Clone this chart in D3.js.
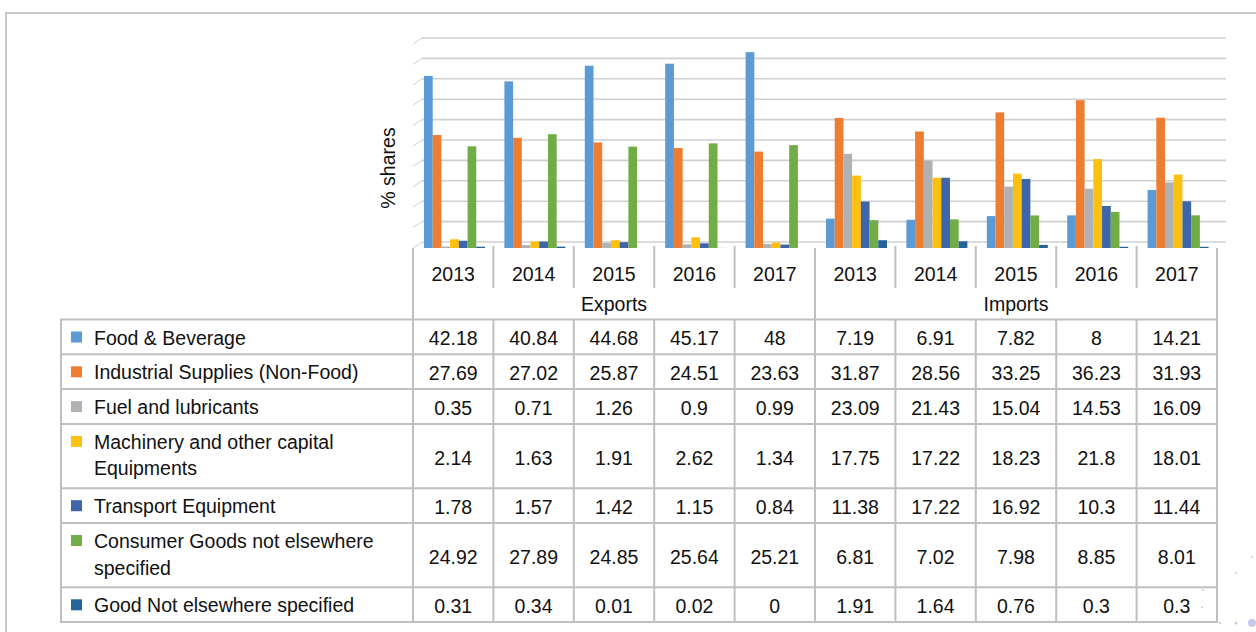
<!DOCTYPE html>
<html>
<head>
<meta charset="utf-8">
<script src="https://cdn.jsdelivr.net/npm/d3@7"></script>
<style>
  html, body { margin: 0; padding: 0; background: #fff; }
  svg { display: block; font-family: "Liberation Sans", Arial, sans-serif; }
</style>
</head>
<body>
<div id="chart"></div>
<script>
// categories
const flows = ["Exports", "Imports"];
const years = ["2013", "2014", "2015", "2016", "2017"];
const seriesLabels = [
  ["Food & Beverage"],
  ["Industrial Supplies (Non-Food)"],
  ["Fuel and lubricants"],
  ["Machinery and other capital", "Equipments"],
  ["Transport Equipment"],
  ["Consumer Goods not elsewhere", "specified"],
  ["Good Not elsewhere specified"]
];
const seriesColors = ["#5b9bd5", "#ed7d31", "#afb2b4", "#fdc010", "#3e64aa", "#70ad47", "#24649a"];

// values: exports 2013..2017 then imports 2013..2017
const foodBeverage   = [42.18, 40.84, 44.68, 45.17, 48, 7.19, 6.91, 7.82, 8, 14.21];
const industrial     = [27.69, 27.02, 25.87, 24.51, 23.63, 31.87, 28.56, 33.25, 36.23, 31.93];
const fuel           = [0.35, 0.71, 1.26, 0.9, 0.99, 23.09, 21.43, 15.04, 14.53, 16.09];
const machinery      = [2.14, 1.63, 1.91, 2.62, 1.34, 17.75, 17.22, 18.23, 21.8, 18.01];
const transport      = [1.78, 1.57, 1.42, 1.15, 0.84, 11.38, 17.22, 16.92, 10.3, 11.44];
const consumerGoods  = [24.92, 27.89, 24.85, 25.64, 25.21, 6.81, 7.02, 7.98, 8.85, 8.01];
const goodsNotElse   = [0.31, 0.34, 0.01, 0.02, 0, 1.91, 1.64, 0.76, 0.3, 0.3];
const seriesValues = [foodBeverage, industrial, fuel, machinery, transport, consumerGoods, goodsNotElse];

const yTicks = [0, 5, 10, 15, 20, 25, 30, 35, 40, 45, 50];

const W = 1256, H = 632;
const FS = 19.5;
const svg = d3.select("#chart").append("svg").attr("width", W).attr("height", H);

// outer frame
svg.append("path").attr("d", "M6,632 V13 H1256")
  .attr("fill", "none").attr("stroke", "#c8c8c8").attr("stroke-width", 2);

// decorative dots bottom right
[[1252, 557, 1], [1236, 573, 1], [1203, 590, 1], [1202, 607, 1], [1220, 623, 1.2], [1236, 623, 1.5], [1252, 623, 4]]
  .forEach(d => svg.append("circle").attr("cx", d[0]).attr("cy", d[1]).attr("r", d[2]).attr("fill", "#c9c9ec"));

const cols = [];
flows.forEach(f => years.forEach(y => cols.push(f + "-" + y)));

const x0 = d3.scaleBand().domain(cols).range([413, 1217]);
const x1 = d3.scaleBand().domain(d3.range(seriesValues.length)).range([11, 72]);
const y = d3.scaleLinear().domain([0, 50]).range([248, 44]);
const depthX = 9, depthY = 6;

// gridlines on back wall with perspective ticks
const grid = svg.append("g");
grid.selectAll("line.g").data(yTicks).join("line")
  .attr("x1", 413 + depthX).attr("x2", 1226)
  .attr("y1", d => y(d) - depthY).attr("y2", d => y(d) - depthY)
  .attr("stroke", "#d0d0d0").attr("stroke-width", 1.6);
grid.selectAll("line.d").data(yTicks).join("line")
  .attr("x1", 413).attr("x2", 413 + depthX)
  .attr("y1", d => y(d)).attr("y2", d => y(d) - depthY)
  .attr("stroke", "#d0d0d0").attr("stroke-width", 1);

// bars
const barG = svg.append("g");
seriesValues.forEach((vals, si) => {
  barG.selectAll("rect.s" + si).data(vals).join("rect")
    .attr("x", (d, i) => x0(cols[i]) + x1(si))
    .attr("width", x1.bandwidth())
    .attr("y", d => y(d))
    .attr("height", d => y(0) - y(d))
    .attr("fill", seriesColors[si]);
});

// axis title
svg.append("text")
  .attr("transform", "translate(395,168) rotate(-90)")
  .attr("text-anchor", "middle").attr("font-size", FS).attr("fill", "#111")
  .text("% shares");

// data table
const lineCol = "#bfbfbf";
const tbl = svg.append("g");
const headTop = 248, yearBottom = 288, headBottom = 319.5, legLeft = 61;
const rowH = n => n === 1 ? 34.8 : 64.3;
const rowTops = [];
let acc = headBottom;
seriesLabels.forEach(l => { rowTops.push(acc); acc += rowH(l.length); });
const tableBottom = acc;

// vertical lines
cols.forEach((c, i) => {
  const xx = x0(c);
  const groupEdge = i % years.length === 0;
  tbl.append("line").attr("x1", xx).attr("x2", xx)
    .attr("y1", groupEdge ? headTop : headTop - 2).attr("y2", groupEdge ? tableBottom : yearBottom)
    .attr("stroke", lineCol).attr("stroke-width", 2);
  if (!groupEdge) {
    tbl.append("line").attr("x1", xx).attr("x2", xx)
      .attr("y1", headBottom).attr("y2", tableBottom)
      .attr("stroke", lineCol).attr("stroke-width", 2);
  }
});
tbl.append("line").attr("x1", 1217).attr("x2", 1217).attr("y1", headTop).attr("y2", tableBottom)
  .attr("stroke", lineCol).attr("stroke-width", 2);
tbl.append("line").attr("x1", legLeft).attr("x2", legLeft).attr("y1", headBottom).attr("y2", tableBottom)
  .attr("stroke", lineCol).attr("stroke-width", 2);
// horizontal lines
rowTops.concat([tableBottom]).forEach(t => {
  tbl.append("line").attr("x1", legLeft - 1).attr("x2", 1218).attr("y1", t).attr("y2", t)
    .attr("stroke", lineCol).attr("stroke-width", 2);
});

// year headers
tbl.selectAll("text.yr").data(cols).join("text")
  .attr("x", d => x0(d) + x0.bandwidth() / 2).attr("y", 281)
  .attr("text-anchor", "middle").attr("font-size", FS).attr("fill", "#111")
  .text(d => d.split("-")[1]);
// flow headers
tbl.selectAll("text.fl").data(flows).join("text")
  .attr("x", (d, i) => (x0(cols[i * years.length]) + x0(cols[i * years.length + years.length - 1]) + x0.bandwidth()) / 2)
  .attr("y", 311)
  .attr("text-anchor", "middle").attr("font-size", FS).attr("fill", "#111")
  .text(d => d);

// rows
seriesLabels.forEach((lines, si) => {
  const top = rowTops[si], h = rowH(lines.length);
  tbl.append("rect").attr("x", 71).attr("y", top + 12).attr("width", 11).attr("height", 11)
    .attr("fill", seriesColors[si]);
  lines.forEach((ln, li) => {
    tbl.append("text").attr("x", 94).attr("y", top + 25 + li * 26.5)
      .attr("font-size", FS).attr("fill", "#111").text(ln);
  });
  seriesValues[si].forEach((v, ci) => {
    tbl.append("text")
      .attr("x", x0(cols[ci]) + x0.bandwidth() / 2).attr("y", top + h / 2 + 8.5)
      .attr("text-anchor", "middle").attr("font-size", FS).attr("fill", "#111")
      .text(String(v));
  });
});
</script>
</body>
</html>
